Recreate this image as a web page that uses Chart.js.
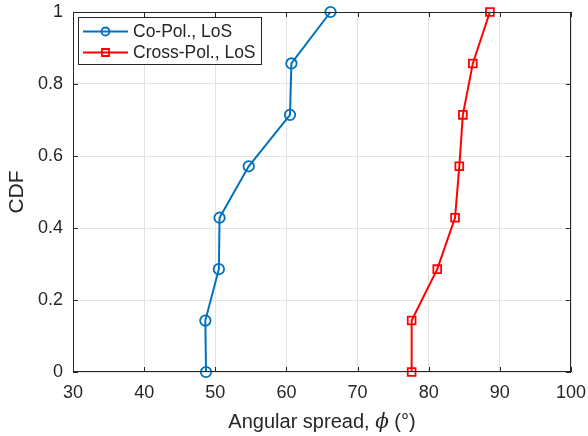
<!DOCTYPE html>
<html>
<head>
<meta charset="utf-8">
<script src="https://cdn.jsdelivr.net/npm/chart.js@4/dist/chart.umd.min.js"></script>
<style>
  html, body { margin: 0; padding: 0; background: #fff; }
  #wrap { width: 588px; height: 436px; }
</style>
</head>
<body>
<div id="wrap"><canvas id="cdf-chart" width="588" height="436"></canvas></div>
<script>
// CDF 數值 (每一點 1/7)
const cdfLevels = [0, 1/7, 2/7, 3/7, 4/7, 5/7, 6/7, 1];
const coPolSpread = [48.7, 48.6, 50.5, 50.6, 54.7, 60.5, 60.7, 66.2];
const crossPolSpread = [77.6, 77.6, 81.2, 83.7, 84.3, 84.8, 86.2, 88.6];
const xTicks = [30, 40, 50, 60, 70, 80, 90, 100];
const yTicks = [0, 0.2, 0.4, 0.6, 0.8, 1];
const seriesNames = ['Co-Pol., LoS', 'Cross-Pol., LoS'];

const textColor = '#262626';
const fontFamily = 'Arial, "Liberation Sans", Helvetica, sans-serif';

function toPoints(xs) {
    return xs.map((x, i) => ({ x: x, y: cdfLevels[i] }));
}

// 框線、內側刻度、圖例、x 軸標題
const axesBoxPlugin = {
    id: 'axesBox',
    afterDraw(chart) {
        const ctx = chart.ctx;
        const a = chart.chartArea;
        const xs = chart.scales.x;
        const ys = chart.scales.y;
        ctx.save();
        ctx.strokeStyle = '#262626';
        ctx.lineWidth = 1;
        ctx.strokeRect(a.left + 0.5, a.top + 0.5, a.right - a.left - 1, a.bottom - a.top - 1);
        const len = 5;
        ctx.beginPath();
        xTicks.forEach(t => {
            const px = Math.round(xs.getPixelForValue(t)) + 0.5;
            ctx.moveTo(px, a.bottom); ctx.lineTo(px, a.bottom - len);
            ctx.moveTo(px, a.top); ctx.lineTo(px, a.top + len);
        });
        yTicks.forEach(t => {
            const py = Math.round(ys.getPixelForValue(t)) + 0.5;
            ctx.moveTo(a.left, py); ctx.lineTo(a.left + len, py);
            ctx.moveTo(a.right, py); ctx.lineTo(a.right - len, py);
        });
        ctx.stroke();

        // 圖例
        const lx = a.left + 5, ly = a.top + 5, lw = 183, lh = 47;
        ctx.fillStyle = '#fff';
        ctx.fillRect(lx, ly, lw, lh);
        ctx.strokeStyle = '#262626';
        ctx.strokeRect(lx + 0.5, ly + 0.5, lw, lh);
        ctx.font = '17.5px ' + fontFamily;
        ctx.textBaseline = 'middle';
        chart.data.datasets.forEach((ds, i) => {
            const cy = ly + 14.5 + i * 21;
            ctx.strokeStyle = ds.borderColor;
            ctx.lineWidth = 2;
            ctx.beginPath();
            ctx.moveTo(lx + 5, cy); ctx.lineTo(lx + 50, cy);
            ctx.stroke();
            ctx.lineWidth = 1.8;
            ctx.beginPath();
            if (ds.pointStyle === 'rect') {
                ctx.rect(lx + 27.5 - 3.5, cy - 3.5, 7, 7);
            } else {
                ctx.arc(lx + 27.5, cy, 4, 0, Math.PI * 2);
            }
            ctx.stroke();
            ctx.fillStyle = textColor;
            ctx.fillText(ds.label, lx + 55, cy + 1);
        });

        // x 軸標題 (ϕ 用斜體)
        const parts = [
            { t: 'Angular spread, ', f: '20px ' + fontFamily },
            { t: 'ϕ', f: 'italic 20px "DejaVu Serif", serif' },
            { t: ' (°)', f: '20px ' + fontFamily }
        ];
        let total = 0;
        parts.forEach(p => { ctx.font = p.f; p.w = ctx.measureText(p.t).width; total += p.w; });
        let tx = (a.left + a.right) / 2 - total / 2;
        ctx.fillStyle = textColor;
        ctx.textBaseline = 'alphabetic';
        ctx.textAlign = 'left';
        parts.forEach(p => { ctx.font = p.f; ctx.fillText(p.t, tx, 428); tx += p.w; });
        ctx.restore();
    }
};

const chart = new Chart(document.getElementById('cdf-chart'), {
    type: 'line',
    data: {
        datasets: [
            {
                label: seriesNames[0],
                data: toPoints(coPolSpread),
                borderColor: '#0072BD',
                backgroundColor: 'rgba(0,0,0,0)',
                borderWidth: 2,
                pointStyle: 'circle',
                pointRadius: 5.2,
                pointBorderWidth: 1.8,
                pointBackgroundColor: 'rgba(0,0,0,0)',
                pointBorderColor: '#0072BD',
                tension: 0
            },
            {
                label: seriesNames[1],
                data: toPoints(crossPolSpread),
                borderColor: '#FF0000',
                backgroundColor: 'rgba(0,0,0,0)',
                borderWidth: 2,
                pointStyle: 'rect',
                pointRadius: 5.5,
                pointBorderWidth: 1.8,
                pointBackgroundColor: 'rgba(0,0,0,0)',
                pointBorderColor: '#FF0000',
                tension: 0
            }
        ]
    },
    options: {
        responsive: false,
        animation: false,
        clip: false,
        layout: { padding: { top: 12, right: 17, left: 0, bottom: 0 } },
        plugins: {
            legend: { display: false },
            tooltip: { enabled: false }
        },
        scales: {
            x: {
                type: 'linear',
                min: 30, max: 100,
                afterBuildTicks: s => { s.ticks = xTicks.map(v => ({ value: v })); },
                afterFit: s => { s.height = 64; s.paddingLeft = 0; s.paddingRight = 0; },
                grid: { color: '#e3e3e3', drawTicks: false, lineWidth: 1 },
                border: { display: false },
                ticks: {
                    color: textColor,
                    padding: 10,
                    font: { family: fontFamily, size: 18 },
                    maxRotation: 0
                }
            },
            y: {
                type: 'linear',
                min: 0, max: 1,
                afterBuildTicks: s => { s.ticks = yTicks.map(v => ({ value: v })); },
                afterFit: s => { s.width = 73; s.paddingTop = 0; s.paddingBottom = 0; },
                grid: { color: '#e3e3e3', drawTicks: false, lineWidth: 1 },
                border: { display: false },
                ticks: {
                    color: textColor,
                    padding: 10,
                    font: { family: fontFamily, size: 18 },
                    callback: v => String(Math.round(v * 10) / 10)
                },
                title: {
                    display: true,
                    text: 'CDF',
                    color: textColor,
                    font: { family: fontFamily, size: 21 },
                    padding: { top: 5, bottom: 0 }
                }
            }
        }
    },
    plugins: [axesBoxPlugin]
});
</script>
</body>
</html>
